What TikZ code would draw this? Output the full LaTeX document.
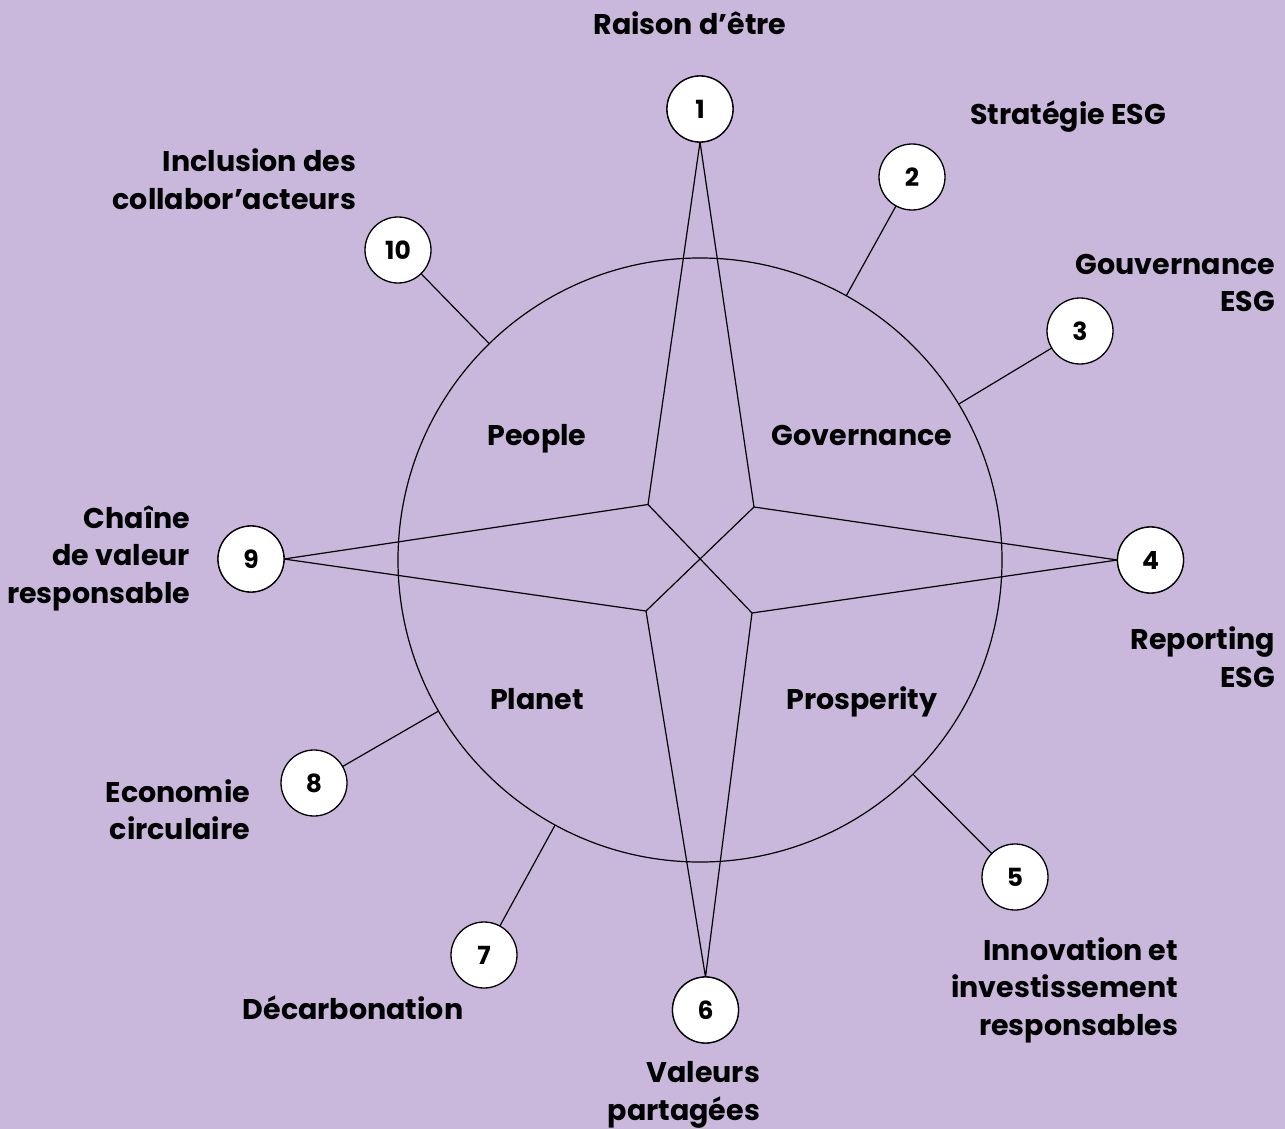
\documentclass[tikz,border=0pt]{standalone}
\usepackage{fontspec}
\setmainfont{Poppins}
\definecolor{bgcol}{RGB}{201,184,220}
\begin{document}
\begin{tikzpicture}[x=1pt,y=-1pt,
  every node/.style={inner sep=0pt, outer sep=0pt},
  lbl/.style={font=\fontsize{28.5}{37.5}\selectfont\bfseries, text=black},
  num/.style={circle, draw=black, line width=1.3pt, fill=white, minimum size=66pt, font=\fontsize{25}{26}\selectfont\bfseries},
  ln/.style={draw=black, line width=1.2pt, line join=miter},
]
\fill[bgcol] (0,0) rectangle (1285,1129);
\useasboundingbox (0,0) rectangle (1285,1129);

\node[circle, draw=black, line width=1.2pt, minimum size=604pt] (C) at (700,560) {};

% numbered circle positions
\coordinate (p1) at (700,109);
\coordinate (p2) at (912,177);
\coordinate (p3) at (1080,331);
\coordinate (p4) at (1150.5,560);
\coordinate (p5) at (1015,877);
\coordinate (p6) at (705.5,1010);
\coordinate (p7) at (484,955);
\coordinate (p8) at (314,783);
\coordinate (p9) at (251,559);
\coordinate (p10) at (398,250);

% inner star points
\coordinate (tl) at (648,504.5);
\coordinate (tr) at (754,507);
\coordinate (bl) at (646,611);
\coordinate (br) at (752,613);

\node[num] (n1) at (p1) {1};
\node[num] (n2) at (p2) {2};
\node[num] (n3) at (p3) {3};
\node[num] (n4) at (p4) {4};
\node[num] (n5) at (p5) {5};
\node[num] (n6) at (p6) {6};
\node[num] (n7) at (p7) {7};
\node[num] (n8) at (p8) {8};
\node[num] (n9) at (p9) {9};
\node[num] (n10) at (p10) {10};

\draw[ln] (n1.south) -- (tr) -- (n4.west) -- (br) -- (n6.north) -- (bl) -- (n9.east) -- (tl) -- cycle;
\draw[ln] (tl) -- (br);
\draw[ln] (tr) -- (bl);

\foreach \i in {2,3,5,7,8,10} {\draw[ln] (C) -- (n\i);}

% redraw circles on top of star tips
\node[num] at (p1) {1};
\node[num] at (p4) {4};
\node[num] at (p6) {6};
\node[num] at (p9) {9};

% quadrant labels
\node[lbl, anchor=base] (q1) at (537,445) {People};
\node[lbl, anchor=base] (q2) at (862,445) {Governance};
\node[lbl, anchor=base] (q3) at (537,709) {Planet};
\node[lbl, anchor=base] (q4) at (862,709) {Prosperity};

% outer labels
\node[lbl, anchor=base] (l1) at (690,34.5) {Raison d’être};
\node[lbl, anchor=base] (l2) at (1068,124.5) {Stratégie ESG};
\node[lbl, align=right, anchor=east] (l3) at (1275,283) {Gouvernance\\ESG};
\node[lbl, align=right, anchor=east] (l4) at (1275,657) {Reporting\\ESG};
\node[lbl, align=right, anchor=east] (l5) at (1178,990) {Innovation et\\investissement\\responsables};
\node[lbl, align=right, anchor=east] (l6) at (760,1095) {Valeurs\\partagées};
\node[lbl, anchor=base] (l7) at (353,1019.5) {Décarbonation};
\node[lbl, align=right, anchor=east] (l8) at (250,809.5) {Economie\\circulaire};
\node[lbl, align=right, anchor=east] (l9) at (190,558) {Chaîne\\de valeur\\responsable};
\node[lbl, align=right, anchor=east] (l10) at (356,179) {Inclusion des\\collabor’acteurs};
\end{tikzpicture}
\end{document}
